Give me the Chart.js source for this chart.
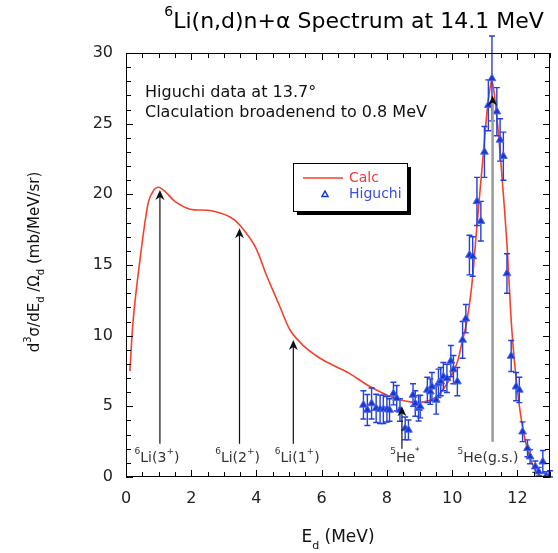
<!DOCTYPE html>
<html>
<head>
<meta charset="utf-8">
<script src="https://cdn.jsdelivr.net/npm/chart.js@4.4.1/dist/chart.umd.min.js"></script>
<style>
  html, body { margin: 0; padding: 0; background: #fff; }
  #wrap { width: 558px; height: 553px; }
</style>
</head>
<body>
<div id="wrap"><canvas id="chart" width="558" height="553"></canvas></div>
<script>
// calculation, broadened to 0.8 MeV
const calcE = [0.12, 0.22, 0.43, 0.68, 0.85, 1.0, 1.2, 1.5, 1.96, 2.58, 3.19, 3.5, 3.96, 4.32, 4.72, 5.03, 5.44, 5.95, 6.4, 6.87, 7.48, 8.2, 8.76, 9.22, 9.53, 9.84, 10.14, 10.3, 10.45, 10.6, 10.75, 10.96, 11.1, 11.22, 11.37, 11.52, 11.68, 11.83, 11.98, 12.14, 12.34, 12.6, 12.8, 13.0];
const calcY = [7.5, 11.1, 15.4, 19.4, 20.3, 20.5, 20.2, 19.5, 18.95, 18.85, 18.4, 17.8, 16.3, 14.2, 12.05, 10.4, 9.3, 8.4, 7.85, 7.3, 6.4, 5.6, 5.3, 5.35, 5.7, 6.6, 8.0, 9.5, 11.0, 13.5, 17.5, 23.0, 26.5, 28.0, 25.5, 21.5, 16.5, 10.4, 6.6, 3.8, 1.7, 0.3, 0.0, 0.0];

// Higuchi data at 13.7 deg
const higE = [7.28, 7.40, 7.53, 7.67, 7.79, 7.89, 8.00, 8.08, 8.20, 8.30, 8.40, 8.56, 8.66, 8.80, 8.87, 8.97, 9.02, 9.24, 9.33, 9.38, 9.51, 9.58, 9.65, 9.73, 9.84, 9.96, 10.04, 10.16, 10.32, 10.42, 10.53, 10.63, 10.76, 10.88, 10.99, 11.11, 11.22, 11.37, 11.47, 11.57, 11.68, 11.81, 11.96, 12.06, 12.16, 12.31, 12.39, 12.55, 12.65, 12.78, 12.88, 13.0];
const higY = [5.1, 4.74, 5.2, 4.86, 4.79, 4.79, 4.79, 4.74, 5.9, 5.57, 4.74, 3.44, 3.33, 5.8, 5.2, 4.86, 4.98, 6.16, 6.04, 6.39, 5.45, 6.63, 6.75, 7.1, 6.98, 8.2, 7.6, 6.75, 9.7, 11.2, 15.7, 15.6, 19.5, 18.1, 23.0, 26.3, 28.2, 25.85, 23.85, 22.7, 14.4, 8.56, 6.39, 6.16, 3.2, 2.03, 1.44, 0.73, 0.38, 1.08, 0.07, 0.14];
const higErr = [1.0, 1.1, 1.1, 1.0, 1.0, 1.0, 0.9, 0.8, 0.8, 0.9, 0.8, 0.8, 0.7, 0.8, 0.9, 0.9, 0.8, 0.9, 0.9, 1.0, 1.0, 1.0, 1.0, 1.0, 1.0, 1.1, 1.0, 1.0, 1.3, 1.0, 1.4, 1.4, 1.7, 1.4, 1.8, 1.8, 3.0, 1.7, 1.5, 1.7, 1.4, 1.1, 1.0, 0.9, 0.7, 0.6, 0.5, 0.4, 0.3, 0.8, 0.3, 0.3];

// level markers (arrows) and their labels
const levelE = [1.04, 3.48, 5.13, 8.46, 11.24];
const levelTop = [20.3, 17.6, 9.7, 5.0, 27.0];
const levelBottom = [2.35, 2.35, 2.35, 2.0, 2.5];
const levelLabels = ["^6Li(3^+)", "^6Li(2^+)", "^6Li(1^+)", "^5He^*", "^5He(g.s.)"];
const levelLabelE = [0.95, 3.42, 5.25, 8.55, 11.1];

const xTicks = [0, 2, 4, 6, 8, 10, 12];
const yTicks = [0, 5, 10, 15, 20, 25, 30];

const FONT = "'DejaVu Sans', Verdana, sans-serif";
const RED = "#f6402c";
const BLUE = "#1a38d0";

// draws text with ^x superscript and _x subscript (single char)
function richText(ctx, str, x, y, size, align, color) {
  const segs = [];
  for (let i = 0; i < str.length; i++) {
    const c = str[i];
    if ((c === "^" || c === "_") && i + 1 < str.length) {
      segs.push({ t: str[i + 1], k: c });
      i++;
    } else {
      const last = segs[segs.length - 1];
      if (last && last.k === "n") last.t += c;
      else segs.push({ t: c, k: "n" });
    }
  }
  let w = 0;
  segs.forEach((s) => {
    ctx.font = (s.k === "n" ? size : Math.round(size * 0.65)) + "px " + FONT;
    s.w = ctx.measureText(s.t).width;
    w += s.w;
  });
  let cx = align === "center" ? x - w / 2 : align === "right" ? x - w : x;
  ctx.fillStyle = color;
  ctx.textBaseline = "middle";
  ctx.textAlign = "left";
  segs.forEach((s) => {
    ctx.font = (s.k === "n" ? size : Math.round(size * 0.65)) + "px " + FONT;
    let dy = 0;
    if (s.k === "^") dy = -size * 0.42;
    if (s.k === "_") dy = size * 0.45;
    ctx.fillText(s.t, cx, y + dy);
    cx += s.w;
  });
}

const decorPlugin = {
  id: "decor",
  beforeDatasetDraw(chart, args) {
    if (args.index !== 1) return;
    const ctx = chart.ctx;
    const xs = chart.scales.x, ys = chart.scales.y;
    ctx.save();
    ctx.strokeStyle = "#2240dc";
    ctx.lineWidth = 1.4;
    higE.forEach((e, i) => {
      const px = xs.getPixelForValue(e);
      const y1 = ys.getPixelForValue(higY[i] + higErr[i]);
      const y2 = ys.getPixelForValue(Math.max(0, higY[i] - higErr[i]));
      ctx.beginPath();
      ctx.moveTo(px, y1); ctx.lineTo(px, y2);
      ctx.moveTo(px - 3, y1); ctx.lineTo(px + 3, y1);
      ctx.moveTo(px - 3, y2); ctx.lineTo(px + 3, y2);
      ctx.stroke();
    });
    ctx.restore();
  },
  afterDatasetsDraw(chart) {
    const ctx = chart.ctx;
    const xs = chart.scales.x, ys = chart.scales.y;
    const a = chart.chartArea;
    ctx.save();
    // level arrows
    levelE.forEach((e, i) => {
      const px = xs.getPixelForValue(e);
      const top = ys.getPixelForValue(levelTop[i]);
      const bot = ys.getPixelForValue(levelBottom[i]);
      const last = i === levelE.length - 1;
      ctx.strokeStyle = last ? "#9a9a9a" : "#111";
      ctx.lineWidth = last ? 2.5 : 1.2;
      ctx.beginPath();
      ctx.moveTo(px, bot); ctx.lineTo(px, top + 4);
      ctx.stroke();
      ctx.fillStyle = "#111";
      ctx.beginPath();
      ctx.moveTo(px, top);
      ctx.lineTo(px - 4.5, top + 10);
      ctx.lineTo(px, top + 7);
      ctx.lineTo(px + 4.5, top + 10);
      ctx.closePath();
      ctx.fill();
      richText(ctx, levelLabels[i], xs.getPixelForValue(levelLabelE[i]), ys.getPixelForValue(1.35), 14, "center", "#333");
    });

    // frame and inward ticks on all sides
    ctx.strokeStyle = "#000";
    ctx.lineWidth = 1;
    ctx.strokeRect(a.left + 0.5, a.top + 0.5, a.right - a.left - 1, a.bottom - a.top - 1);
    ctx.beginPath();
    for (let v = 0; v <= 13.001; v += 0.5) {
      const px = Math.round(xs.getPixelForValue(v)) + 0.5;
      const len = v % 2 === 0 ? 7 : 5;
      ctx.moveTo(px, a.bottom); ctx.lineTo(px, a.bottom - len);
      ctx.moveTo(px, a.top); ctx.lineTo(px, a.top + len);
    }
    for (let v = 0; v <= 30; v += 1) {
      const py = Math.round(ys.getPixelForValue(v)) + 0.5;
      const len = v % 5 === 0 ? 7 : 5;
      ctx.moveTo(a.left, py); ctx.lineTo(a.left + len, py);
      ctx.moveTo(a.right, py); ctx.lineTo(a.right - len, py);
    }
    ctx.stroke();

    // title, axis titles, notes
    richText(ctx, "^6Li(n,d)n+α Spectrum at 14.1 MeV", 354, 22, 22, "center", "#000");
    richText(ctx, "Higuchi data at 13.7°", 145, 93, 16, "left", "#111");
    richText(ctx, "Claculation broadenend to 0.8 MeV", 145, 113, 16, "left", "#111");
    richText(ctx, "E_d (MeV)", 338, 538, 17, "center", "#111");
    ctx.save();
    ctx.translate(35, 262);
    ctx.rotate(-Math.PI / 2);
    richText(ctx, "d^3σ/dE_d /Ω_d (mb/MeV/sr)", 0, 0, 15, "center", "#111");
    ctx.restore();

    // legend
    const lx = 293, ly = 163, lw = 114, lh = 48;
    ctx.fillStyle = "#000";
    ctx.fillRect(lx + 4, ly + 4, lw, lh);
    ctx.fillStyle = "#fff";
    ctx.fillRect(lx, ly, lw, lh);
    ctx.strokeStyle = "#000";
    ctx.lineWidth = 1;
    ctx.strokeRect(lx + 0.5, ly + 0.5, lw, lh);
    ctx.strokeStyle = RED;
    ctx.lineWidth = 1.5;
    ctx.beginPath();
    ctx.moveTo(303, 178); ctx.lineTo(343, 178);
    ctx.stroke();
    richText(ctx, "Calc", 349, 178, 14, "left", "#f03a3a");
    ctx.strokeStyle = BLUE;
    ctx.lineWidth = 1.5;
    ctx.beginPath();
    ctx.moveTo(325, 191); ctx.lineTo(328, 196.5); ctx.lineTo(322, 196.5);
    ctx.closePath();
    ctx.stroke();
    richText(ctx, "Higuchi", 349, 194, 14, "left", "#3a4ee6");
    ctx.restore();
  },
};

const ctx = document.getElementById("chart").getContext("2d");
new Chart(ctx, {
  type: "scatter",
  data: {
    datasets: [
      {
        label: "Calc",
        data: calcE.map((e, i) => ({ x: e, y: calcY[i] })),
        showLine: true,
        borderColor: RED,
        borderWidth: 1.6,
        pointRadius: 0,
        tension: 0.3,
        order: 2,
      },
      {
        label: "Higuchi",
        data: higE.map((e, i) => ({ x: e, y: higY[i] })),
        showLine: false,
        pointStyle: "triangle",
        pointRadius: 4.5,
        backgroundColor: BLUE,
        borderColor: "#4a66ee",
        borderWidth: 1,
        order: 1,
      },
    ],
  },
  options: {
    responsive: false,
    animation: false,
    layout: { padding: { top: 53, right: 8, left: 0, bottom: 0 } },
    plugins: {
      legend: { display: false },
      title: { display: false },
      tooltip: { enabled: false },
    },
    scales: {
      x: {
        type: "linear",
        min: 0,
        max: 13,
        afterBuildTicks: (s) => { s.ticks = xTicks.map((v) => ({ value: v })); },
        afterFit: (s) => { s.height = 76; },
        grid: { display: false, drawTicks: false },
        border: { display: false },
        ticks: { padding: 12, color: "#222", font: { family: FONT, size: 16 }, maxRotation: 0 },
      },
      y: {
        type: "linear",
        min: 0,
        max: 30,
        afterBuildTicks: (s) => { s.ticks = yTicks.map((v) => ({ value: v })); },
        afterFit: (s) => { s.width = 126; },
        grid: { display: false, drawTicks: false },
        border: { display: false },
        ticks: { padding: 13, color: "#222", font: { family: FONT, size: 16 } },
      },
    },
  },
  plugins: [decorPlugin],
});
</script>
</body>
</html>
